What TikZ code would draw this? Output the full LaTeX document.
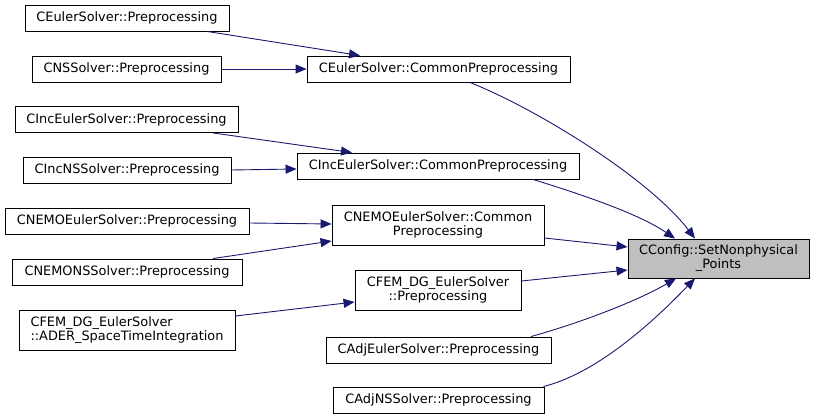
\documentclass[tikz,border=0pt]{standalone}
\usepackage{fontspec}
\setmainfont{DejaVu Sans}
\usetikzlibrary{arrows.meta}
\definecolor{edgeblue}{HTML}{191970}
\begin{document}
\begin{tikzpicture}[x=1pt,y=-1pt,
  box/.style={draw=black, line width=0.9pt, fill=white, inner sep=0pt, align=center,
    font=\fontsize{12.9}{14}\selectfont},
  lbox/.style={box, align=left},
  edge/.style={draw=edgeblue, line width=0.9pt, -{Triangle[length=11pt,width=9pt]}}]
\useasboundingbox (0,0) rectangle (815,419);
% left column
\node[box, minimum width=204pt, minimum height=26pt] (n1) at (127,18) {CEulerSolver::Preprocessing};
\node[box, minimum width=189pt, minimum height=26pt] (n2) at (126.5,69) {CNSSolver::Preprocessing};
\node[box, minimum width=223pt, minimum height=26pt] (n3) at (126.5,119.5) {CIncEulerSolver::Preprocessing};
\node[box, minimum width=208pt, minimum height=26pt] (n4) at (127,170) {CIncNSSolver::Preprocessing};
\node[box, minimum width=244pt, minimum height=26pt] (n5) at (127,221) {CNEMOEulerSolver::Preprocessing};
\node[box, minimum width=230pt, minimum height=26pt] (n6) at (127,272) {CNEMONSSolver::Preprocessing};
\node[lbox, minimum width=216pt, minimum height=40pt] (n7) at (127,330.5) {CFEM\_DG\_EulerSolver\\::ADER\_SpaceTimeIntegration};
% middle column
\node[box, minimum width=263pt, minimum height=26pt] (n8) at (438.5,69) {CEulerSolver::CommonPreprocessing};
\node[box, minimum width=282pt, minimum height=26pt] (n9) at (438,166) {CIncEulerSolver::CommonPreprocessing};
\node[box, minimum width=212pt, minimum height=40pt] (n10) at (438,225) {CNEMOEulerSolver::Common\\Preprocessing};
\node[box, minimum width=166pt, minimum height=40pt] (n11) at (438,290) {CFEM\_DG\_EulerSolver\\::Preprocessing};
\node[box, minimum width=225pt, minimum height=26pt] (n12) at (438.5,350) {CAdjEulerSolver::Preprocessing};
\node[box, minimum width=211pt, minimum height=26pt] (n13) at (438.5,400) {CAdjNSSolver::Preprocessing};
% target
\node[box, fill=black!25, minimum width=181pt, minimum height=39pt] (t) at (718.5,258.5) {CConfig::SetNonphysical\\\_Points};
% edges left -> middle
\draw[edge] ([xshift=80pt]n1.south) -- ([xshift=-78.5pt]n8.north);
\draw[edge] (n2.east) -- (n8.west);
\draw[edge] ([xshift=86.5pt]n3.south) -- ([xshift=-86pt]n9.north);
\draw[edge] (n4.east) -- ([yshift=-3pt]n9.west);
\draw[edge] ([yshift=-2pt]n5.east) -- ([yshift=1pt]n10.west);
\draw[edge] ([xshift=86pt]n6.north) -- ([yshift=-16pt]n10.west);
\draw[edge] ([yshift=14.5pt]n7.east) -- ([yshift=-12pt]n11.west);
% edges middle -> target
\draw[edge] ([xshift=31.5pt]n8.south) .. controls +(70,28) and +(-45,-59) .. ([xshift=-23.5pt]t.north);
\draw[edge] ([xshift=95pt]n9.south) .. controls +(52,16) and +(-35,-24) .. ([xshift=-43.5pt]t.north);
\draw[edge] ([yshift=-13pt]n10.east) -- ([yshift=11.5pt]t.west);
\draw[edge] ([yshift=9pt]n11.east) -- ([yshift=-11.5pt]t.west);
\draw[edge] ([xshift=92.5pt]n12.north) .. controls +(54,-15) and +(-36,21) .. ([xshift=-42.5pt]t.south);
\draw[edge] ([xshift=-1pt]n13.north east) .. controls +(60,-15) and +(-30,31) .. ([xshift=-23.5pt]t.south);
\end{tikzpicture}
\end{document}
